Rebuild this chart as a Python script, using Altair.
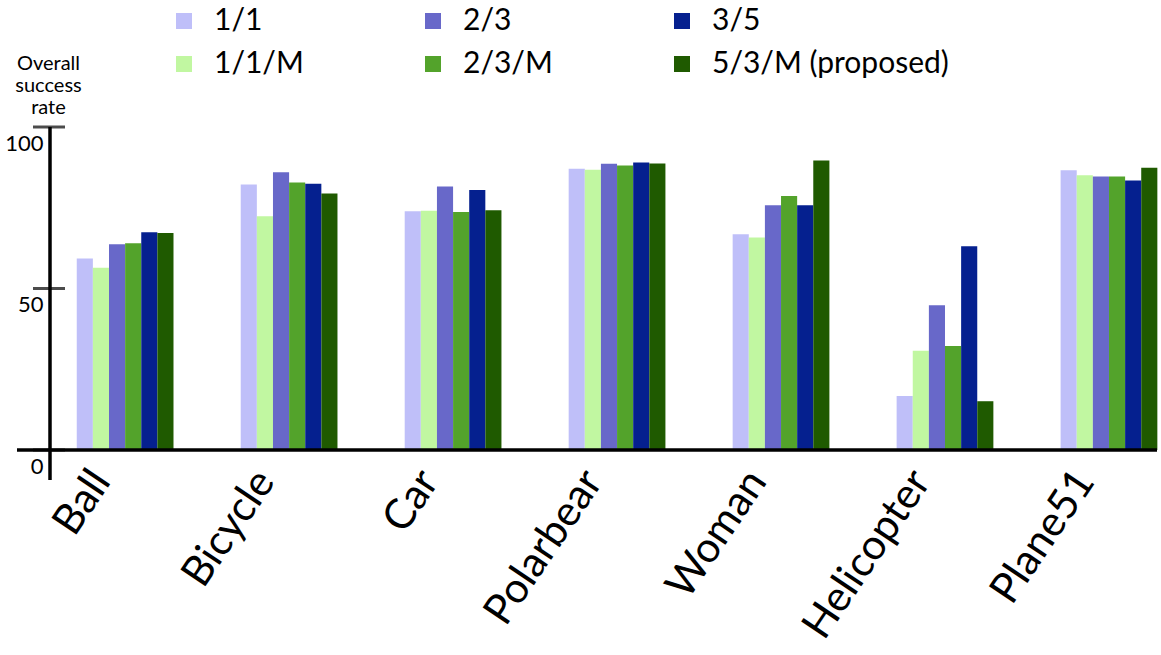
import altair as alt
import pandas as pd

# Objects (x categories) and the six tracker configurations
objects = ["Ball", "Bicycle", "Car", "Polarbear", "Woman", "Helicopter", "Plane51"]
series = ["1/1", "1/1/M", "2/3", "2/3/M", "3/5", "5/3/M (proposed)"]
series_colors = ["#bfbff9", "#c1f7a1", "#6868c9", "#53a32b", "#05208f", "#1f5a00"]

# Overall success rate (%) per object, one list per configuration
rate_1_1 = [59.3, 82.2, 73.9, 87.1, 66.8, 16.7, 86.6]
rate_1_1_m = [56.4, 72.4, 74.1, 86.8, 65.8, 30.7, 85.1]
rate_2_3 = [63.7, 86.0, 81.6, 88.6, 75.8, 44.8, 84.7]
rate_2_3_m = [64.0, 82.8, 73.7, 88.1, 78.6, 32.2, 84.7]
rate_3_5 = [67.4, 82.4, 80.5, 89.0, 75.8, 63.1, 83.4]
rate_5_3_m = [67.2, 79.4, 74.2, 88.7, 89.6, 15.1, 87.4]

y_ticks = [0, 50, 100]

rates = [rate_1_1, rate_1_1_m, rate_2_3, rate_2_3_m, rate_3_5, rate_5_3_m]
rows = []
for name, vals in zip(series, rates):
    for obj, v in zip(objects, vals):
        rows.append({"object": obj, "config": name, "rate": v})
df = pd.DataFrame(rows)

FONT = "Lato"
W, H = 1111, 323

bars = alt.Chart(df).mark_bar().encode(
    x=alt.X(
        "object:N",
        sort=objects,
        scale=alt.Scale(paddingInner=0.41, paddingOuter=0.0927, align=0.88),
        axis=alt.Axis(
            title=None, domain=False, ticks=False, labelAngle=-56,
            labelAlign="right", labelBaseline="middle", labelFontSize=42,
            labelFont=FONT, labelColor="black", labelPadding=24,
            labelOffset=-24, labelLimit=0,
        ),
    ),
    xOffset=alt.XOffset("config:N", sort=series,
                        scale=alt.Scale(paddingInner=0, paddingOuter=0)),
    y=alt.Y(
        "rate:Q",
        scale=alt.Scale(domain=[0, 100], nice=False),
        axis=alt.Axis(
            values=y_ticks, domain=False, ticks=False, grid=False,
            labelFontSize=22, labelFont=FONT, labelColor="black",
            labelPadding=7, labelOffset=16, labelBaseline="middle",
            title=["Overall", "success", "rate"], titleAngle=0,
            titleFont=FONT, titleFontSize=20, titleFontWeight="normal",
            titleColor="black", titleAlign="center", titleBaseline="top",
            titleX=-2, titleY=-74, titleLineHeight=22,
        ),
    ),
    color=alt.Color(
        "config:N",
        scale=alt.Scale(domain=series, range=series_colors),
        legend=alt.Legend(
            title=None, orient="none", legendX=119, legendY=-121,
            columns=3, gridAlign="each", columnPadding=114, rowPadding=13,
            symbolType="square", symbolSize=256, symbolStrokeWidth=0,
            labelFont=FONT, labelFontSize=30, labelColor="black",
            labelOffset=15, labelLimit=0, padding=0,
        ),
    ),
)

# Axis ticks crossing the vertical axis line
ticks = alt.Chart(pd.DataFrame({"rate": y_ticks})).mark_tick(
    orient="horizontal", size=32, thickness=3, color="black"
).encode(y="rate:Q", x=alt.value(-1))

one = pd.DataFrame({"k": [0]})
y_line = alt.Chart(one).mark_rule(color="black", strokeWidth=3.5).encode(
    x=alt.value(0), y=alt.value(0), y2=alt.value(H + 30)
)
x_line = alt.Chart(one).mark_rule(color="black", strokeWidth=3.5).encode(
    x=alt.value(-33), x2=alt.value(W - 4), y=alt.value(H)
)

chart = alt.layer(bars, ticks, y_line, x_line).properties(
    width=W, height=H,
    padding={"left": 50, "top": 127, "right": 0, "bottom": 205},
    autosize=alt.AutoSizeParams(type="none"),
).configure(background="white").configure_view(stroke=None)

chart.save("out.html", embed_options={"renderer": "svg", "actions": False})
